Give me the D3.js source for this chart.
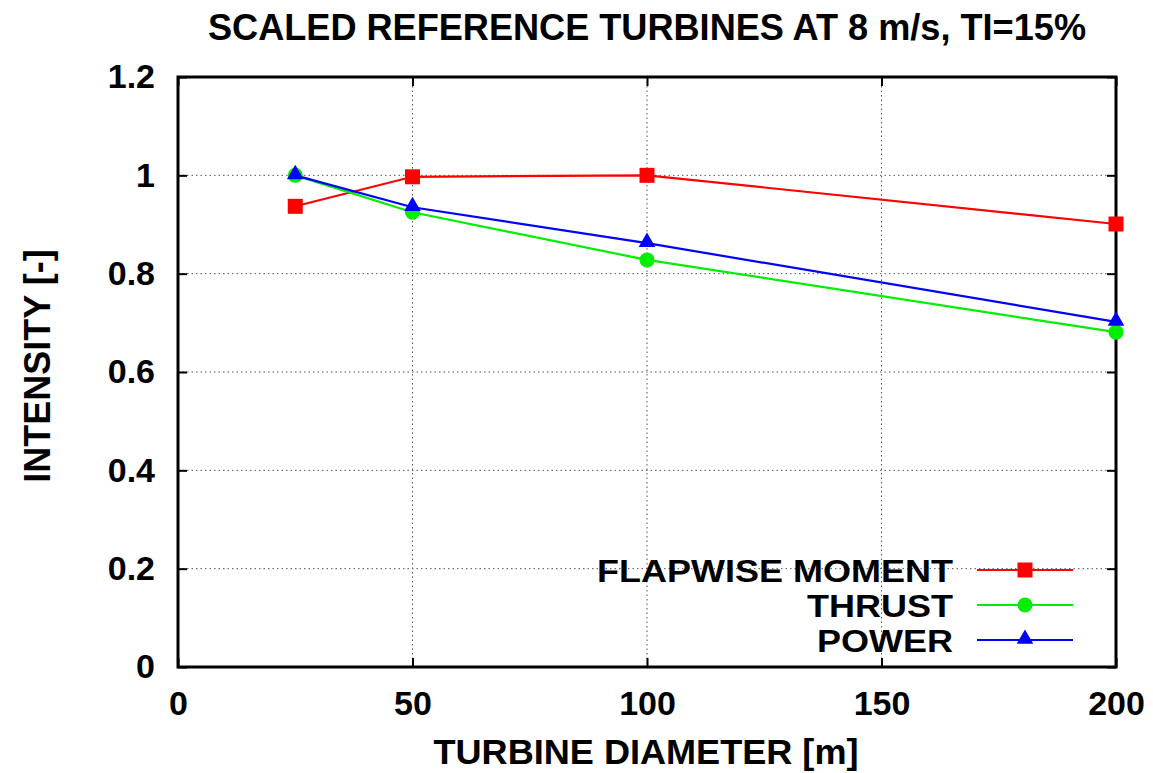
<!DOCTYPE html>
<html><head><meta charset="utf-8">
<script src="https://cdn.jsdelivr.net/npm/d3@7"></script>
<style>body{margin:0;background:#fff}svg{display:block}</style>
</head><body>
<script>
const diameters = [25, 50, 100, 200];
const flapwise = [0.937, 0.997, 1.0, 0.901];
const thrust = [1.0, 0.925, 0.828, 0.681];
const power = [1.0, 0.935, 0.862, 0.702];
const seriesNames = ["FLAPWISE MOMENT", "THRUST", "POWER"];
const seriesColors = ["#ff0000", "#00ee00", "#0000ff"];
const seriesShapes = ["square", "circle", "triangle"];
const xTicks = [0, 50, 100, 150, 200];
const yTicks = [0, 0.2, 0.4, 0.6, 0.8, 1.0, 1.2];
const yTickLabels = ["0", "0.2", "0.4", "0.6", "0.8", "1", "1.2"];
const title = "SCALED REFERENCE TURBINES AT 8 m/s, TI=15%";
const xLabel = "TURBINE DIAMETER [m]";
const yLabel = "INTENSITY [-]";

const W = 1153, H = 773;
const m = {l: 178, r: 1116, t: 77, b: 667};
const svg = d3.select("body").append("svg").attr("width", W).attr("height", H);
const x = d3.scaleLinear().domain([0, 200]).range([m.l, m.r]);
const y = d3.scaleLinear().domain([0, 1.2]).range([m.b, m.t]);
const font = "'Liberation Sans', Arial, sans-serif";

// grid
const g = svg.append("g");
g.selectAll(".gy").data(yTicks.filter(v => v > 0 && v < 1.2)).join("line")
  .attr("x1", m.l).attr("x2", m.r).attr("y1", d => y(d)).attr("y2", d => y(d))
  .attr("stroke", "#555").attr("stroke-width", 1).attr("stroke-dasharray", "1.5,3");
g.selectAll(".gx").data(xTicks.filter(v => v > 0 && v < 200)).join("line")
  .attr("y1", m.t).attr("y2", m.b).attr("x1", d => x(d)).attr("x2", d => x(d))
  .attr("stroke", "#555").attr("stroke-width", 1).attr("stroke-dasharray", "1.5,3");

// axes with inward ticks
const tl = 9;
const axL = d3.axisLeft(y).tickValues(yTicks).tickSize(-tl).tickPadding(23).tickFormat((d, i) => yTickLabels[i]);
const axR = d3.axisRight(y).tickValues(yTicks).tickSize(-tl).tickFormat("");
const axB = d3.axisBottom(x).tickValues(xTicks).tickSize(-tl).tickPadding(24);
const axT = d3.axisTop(x).tickValues(xTicks).tickSize(-tl).tickFormat("");
function style(sel) {
  sel.select(".domain").remove();
  sel.selectAll("line").attr("stroke", "#000").attr("stroke-width", 2);
  sel.selectAll("text").attr("font-family", font).attr("font-weight", "bold").attr("font-size", 34).attr("fill", "#000");
}
svg.append("g").attr("transform", `translate(${m.l},0)`).call(axL).call(style);
svg.append("g").attr("transform", `translate(${m.r},0)`).call(axR).call(style);
svg.append("g").attr("transform", `translate(0,${m.b})`).call(axB).call(style);
svg.append("g").attr("transform", `translate(0,${m.t})`).call(axT).call(style);
svg.append("rect").attr("x", m.l).attr("y", m.t).attr("width", m.r - m.l).attr("height", m.b - m.t)
  .attr("fill", "none").attr("stroke", "#000").attr("stroke-width", 3);

// series
const allSeries = [flapwise, thrust, power];
function marker(sel, shape, color) {
  if (shape === "square") sel.append("rect").attr("x", -7.5).attr("y", -7.5).attr("width", 15).attr("height", 15).attr("fill", color);
  else if (shape === "circle") sel.append("circle").attr("r", 7.5).attr("fill", color);
  else sel.append("path").attr("d", d3.symbol(d3.symbolTriangle, 120)()).attr("transform", "translate(0,-1)").attr("fill", color);
}
const line = d3.line().x((d, i) => x(diameters[i])).y(d => y(d));
allSeries.forEach((vals, si) => {
  svg.append("path").datum(vals).attr("d", line).attr("fill", "none")
    .attr("stroke", seriesColors[si]).attr("stroke-width", 2.2);
});
allSeries.forEach((vals, si) => {
  vals.forEach((v, i) => {
    const gm = svg.append("g").attr("transform", `translate(${x(diameters[i])},${y(v)})`);
    marker(gm, seriesShapes[si], seriesColors[si]);
  });
});

// legend
const legY = [570, 605, 640];
seriesNames.forEach((n, i) => {
  const t = svg.append("text").attr("x", 953).attr("y", legY[i]).attr("dy", "0.36em").attr("text-anchor", "end")
    .attr("font-family", font).attr("font-weight", "bold").attr("font-size", 36).text(n);
  const w = t.node().getComputedTextLength();
  t.attr("font-size", 31).attr("dy", "0.38em").attr("textLength", w).attr("lengthAdjust", "spacingAndGlyphs");
  svg.append("line").attr("x1", 977).attr("x2", 1073).attr("y1", legY[i]).attr("y2", legY[i])
    .attr("stroke", seriesColors[i]).attr("stroke-width", 2.2);
  const gm = svg.append("g").attr("transform", `translate(1025,${legY[i]})`);
  marker(gm, seriesShapes[i], seriesColors[i]);
});

// titles
svg.append("text").attr("x", 647).attr("y", 40).attr("text-anchor", "middle")
  .attr("font-family", font).attr("font-weight", "bold").attr("font-size", 37)
  .attr("textLength", 878).attr("lengthAdjust", "spacingAndGlyphs").text(title);
svg.append("text").attr("x", 646).attr("y", 764).attr("text-anchor", "middle")
  .attr("font-family", font).attr("font-weight", "bold").attr("font-size", 35)
  .attr("textLength", 425).attr("lengthAdjust", "spacingAndGlyphs").text(xLabel);
svg.append("text").attr("transform", "translate(50,366) rotate(-90)").attr("text-anchor", "middle")
  .attr("font-family", font).attr("font-weight", "bold").attr("font-size", 36).text(yLabel);
</script>
</body></html>
